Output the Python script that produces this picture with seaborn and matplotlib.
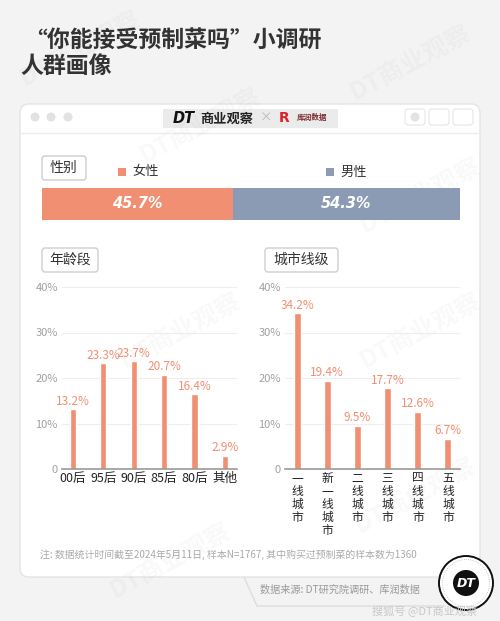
import matplotlib.pyplot as plt
import matplotlib.patches as mpatches
import numpy as np
import pandas as pd
import seaborn as sns

# chart data
title_lines = ["“你能接受预制菜吗”小调研", "人群画像"]
gender_labels = ["女性", "男性"]
gender_share = [45.7, 54.3]
age_groups = ["00后", "95后", "90后", "85后", "80后", "其他"]
age_share = [13.2, 23.3, 23.7, 20.7, 16.4, 2.9]
city_tiers = ["一线城市", "新一线城市", "二线城市", "三线城市", "四线城市", "五线城市"]
city_share = [34.2, 19.4, 9.5, 17.7, 12.6, 6.7]
y_ticks = [0, 10, 20, 30, 40]
y_tick_labels = ["0", "10%", "20%", "30%", "40%"]
note = "注: 数据统计时间截至2024年5月11日, 样本N=1767, 其中购买过预制菜的样本数为1360"
source = "数据来源: DT研究院调研、库润数据"

SALMON = "#f08f72"
SLATE = "#8a9bb3"
W, H = 500, 621

sns.set_theme(style="white")
plt.rcParams["font.family"] = ["Noto Sans CJK SC", "DejaVu Sans"]


def box(x0, y0, x1, y1):
    # pixel box (top-left origin) -> figure fraction
    return [x0 / W, 1 - y1 / H, (x1 - x0) / W, (y1 - y0) / H]


fig = plt.figure(figsize=(5, 6.21), dpi=100)
fig.patch.set_facecolor("#f3f3f3")

# background / decoration layer in pixel units
bg = fig.add_axes([0, 0, 1, 1])
bg.set_xlim(0, W)
bg.set_ylim(H, 0)
bg.axis("off")

bg.text(24, 40, title_lines[0], fontsize=16.5, fontweight="bold",
        color="#333333", va="center", ha="left")
bg.text(20, 66, title_lines[1], fontsize=16.5, fontweight="bold",
        color="#333333", va="center", ha="left")

card = mpatches.FancyBboxPatch((20, 104), 460, 473,
                               boxstyle="round,pad=0,rounding_size=9",
                               fc="white", ec="#e4e4e4", lw=1)
bg.add_patch(card)
bg.plot([20, 480], [133, 133], color="#ececec", lw=1)

# window buttons
for cx in [35, 51, 68]:
    bg.add_patch(mpatches.Circle((cx, 117), 4.5, fc="#e2e2e2", ec="none"))
for x0 in [405, 429, 453]:
    bg.add_patch(mpatches.FancyBboxPatch((x0, 109), 20, 16,
                                         boxstyle="round,pad=0,rounding_size=3",
                                         fc="white", ec="#e6e6e6", lw=0.8))
bg.add_patch(mpatches.Circle((415, 117), 4.5, fc="#e2e2e2", ec="none"))

# header brand strip
bg.add_patch(mpatches.Rectangle((163, 109), 175, 19, fc="#ebebeb", ec="none"))
bg.text(173, 118.5, "DT", fontsize=10.5, fontweight="heavy", style="italic",
        color="#111111", va="center", ha="left", family="DejaVu Sans")
bg.text(200, 118.5, "商业观察", fontsize=9.5, fontweight="bold",
        color="#222222", va="center", ha="left")
bg.text(266, 118.5, "×", fontsize=9, color="#bbbbbb", va="center", ha="center")
bg.text(279, 118.5, "R", fontsize=10, fontweight="bold", color="#d9242b",
        va="center", ha="left", family="DejaVu Sans")
bg.text(297, 117, "库润数据", fontsize=5.5, fontweight="bold", color="#7a2a30",
        va="center", ha="left")


def tag(x0, y0, x1, y1, label):
    bg.add_patch(mpatches.FancyBboxPatch((x0, y0), x1 - x0, y1 - y0,
                                         boxstyle="round,pad=0,rounding_size=3",
                                         fc="white", ec="#c9c9c9", lw=0.9))
    bg.text((x0 + x1) / 2, (y0 + y1) / 2, label, fontsize=10,
            color="#333333", va="center", ha="center")


tag(42, 156, 86, 180, "性别")
tag(42, 248, 98, 272, "年龄段")
tag(265, 248, 338, 272, "城市线级")

# gender legend
for (lx, lab, col) in [(118, gender_labels[0], SALMON), (326, gender_labels[1], SLATE)]:
    bg.add_patch(mpatches.Rectangle((lx, 168), 8, 8, fc=col, ec="none"))
    bg.text(lx + 14, 172, lab, fontsize=9.5, color="#333333", va="center", ha="left")

# footnote, source and logo
bg.text(40, 555, note, fontsize=7.1, color="#aaaaaa", va="center", ha="left")
bg.plot([244, 257, 445], [577, 606, 606], color="#dddddd", lw=1)
bg.text(260, 590, source, fontsize=7.3, color="#999999", va="center", ha="left")
bg.add_patch(mpatches.Circle((466, 583), 27, fc="white", ec="#111111", lw=1.4))
bg.add_patch(mpatches.Circle((466, 583), 23.5, fc="none", ec="#bbbbbb", lw=0.6, ls=":"))
bg.add_patch(mpatches.Circle((466, 583), 13, fc="#111111", ec="none"))
bg.text(466, 583.5, "DT", fontsize=9, fontweight="heavy", style="italic",
        color="white", va="center", ha="center", family="DejaVu Sans")
bg.text(372, 611, "搜狐号 @DT商业观察", fontsize=8, color="#c8c8c8",
        va="center", ha="left")

# faint diagonal watermarks
for (wx, wy) in [(410, 62), (200, 125), (420, 195), (180, 330), (420, 330), (170, 560), (415, 495), (80, 48)]:
    bg.text(wx, wy, "DT商业观察", fontsize=18, fontweight="bold", color="black",
            alpha=0.028, rotation=28, va="center", ha="center")

# gender stacked bar
ax_g = fig.add_axes(box(42, 188, 460, 220))
lefts = np.concatenate([[0], np.cumsum(gender_share)[:-1]])
for left, val, col in zip(lefts, gender_share, [SALMON, SLATE]):
    ax_g.barh(0, val, left=left, height=1, color=col, edgecolor="none")
    ax_g.text(left + val / 2, 0, f"{val}%", fontsize=10.5, fontweight="bold",
              style="italic", color="white", va="center", ha="center",
              family="DejaVu Sans")
ax_g.set_xlim(0, sum(gender_share))
ax_g.set_ylim(-0.5, 0.5)
ax_g.axis("off")


def column_chart(rect, cats, vals, width, xlim, tick_labels, vertical=False):
    ax = fig.add_axes(rect)
    ax.patch.set_alpha(0)
    df = pd.DataFrame({"cat": cats, "val": vals})
    sns.barplot(data=df, x="cat", y="val", color=SALMON, saturation=1,
                width=width, ax=ax)
    ax.bar_label(ax.containers[0], labels=[f"{v}%" for v in vals],
                 padding=1, fontsize=8.5, color=SALMON)
    ax.set_xlim(*xlim)
    ax.set_ylim(0, 40)
    ax.set_yticks(y_ticks)
    ax.set_yticklabels(y_tick_labels, fontsize=8, color="#a0a0a0")
    for t in y_ticks[1:]:
        ax.axhline(t, color="#eeeeee", lw=0.8, zorder=0)
    ax.set_xticks(range(len(cats)))
    if vertical:
        ax.set_xticklabels(tick_labels, fontsize=8.5, color="#222222",
                           linespacing=1.0, va="top")
    else:
        ax.set_xticklabels(tick_labels, fontsize=9, color="#222222")
    ax.tick_params(axis="both", length=0, pad=3)
    ax.tick_params(axis="x", pad=2)
    for side in ["top", "right", "left"]:
        ax.spines[side].set_visible(False)
    ax.spines["bottom"].set_color("#999999")
    ax.spines["bottom"].set_linewidth(1.2)
    ax.set_xlabel("")
    ax.set_ylabel("")
    return ax


column_chart(box(62, 287, 237, 469), age_groups, age_share, 0.2,
             (-0.36, 5.4), age_groups)
column_chart(box(285, 287, 460, 469), city_tiers, city_share, 0.23,
             (-0.4, 5.4), ["\n".join(c) for c in city_tiers], vertical=True)

fig.savefig("out.png", dpi=100)
